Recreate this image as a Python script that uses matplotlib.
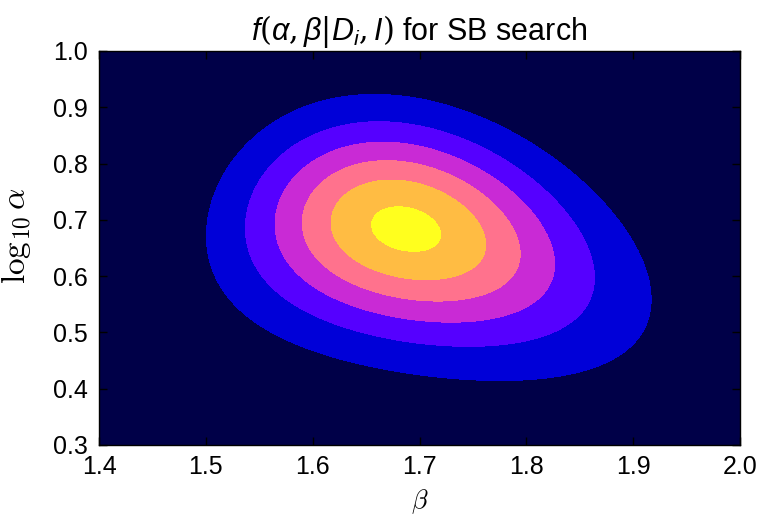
import numpy as np
import matplotlib
matplotlib.use("Agg")
import matplotlib.pyplot as plt

plt.rcParams['font.family'] = ['Liberation Sans', 'DejaVu Sans']
plt.rcParams['mathtext.fontset'] = 'custom'
plt.rcParams['mathtext.it'] = 'Liberation Sans:italic'
plt.rcParams['mathtext.rm'] = 'DejaVu Serif'

# axis ranges and ticks
beta_range  = [1.4, 2.0]
loga_range  = [0.3, 1.0]
beta_ticks  = [1.4, 1.5, 1.6, 1.7, 1.8, 1.9, 2.0]
loga_ticks  = [0.3, 0.4, 0.5, 0.6, 0.7, 0.8, 0.9, 1.0]

# posterior shape
BETA_PEAK   = 1.687   # beta at the maximum
LOGA_PEAK   = 0.684   # log10 alpha at the maximum
SIG_BETA    = 0.107
SIG_LOGA    = 0.131
RHO         = -0.22   # beta / log alpha correlation
SKEW_BETA   = 0.108   # longer tail towards large beta
SKEW_LOGA   = 0.045   # longer tail towards small alpha
BANANA      = 0.14    # contours bend downwards on both sides
PEAK_HEIGHT = 0.942

levels = [0.0, 0.15, 0.30, 0.45, 0.60, 0.75, 0.90, 1.05]


def posterior(beta, loga):
    """Skewed, slightly bent 2D Gaussian used for the contour field."""
    u = (beta - BETA_PEAK) / SIG_BETA
    v = (loga - LOGA_PEAK) / SIG_LOGA
    u1 = (1.0 - np.exp(-SKEW_BETA * u)) / SKEW_BETA
    v1 = (np.exp(SKEW_LOGA * v) - 1.0) / SKEW_LOGA
    v2 = v1 + BANANA * u1 ** 2
    Q = (u1 ** 2 - 2 * RHO * u1 * v2 + v2 ** 2) / (1 - RHO ** 2)
    return PEAK_HEIGHT * np.exp(-0.5 * Q)


B, L = np.meshgrid(np.linspace(*beta_range, 500), np.linspace(*loga_range, 500))
F = posterior(B, L)

fig = plt.figure(figsize=(7.58, 5.16), dpi=100)
ax = fig.add_axes([99 / 758, 71 / 516, 641 / 758, 394 / 516])
ax.contourf(B, L, F, levels=levels, cmap='gnuplot2',
            vmin=levels[0], vmax=levels[-1])

ax.set_xlim(beta_range)
ax.set_ylim(loga_range)
ax.set_xticks(beta_ticks)
ax.set_yticks(loga_ticks)
ax.tick_params(direction='in', top=True, right=True, length=6, width=1,
               labelsize=18, pad=8)
ax.tick_params(axis='x', pad=7)
for s in ax.spines.values():
    s.set_linewidth(1.0)

ax.set_xlabel(r'$\beta$', fontsize=19, math_fontfamily='cm', labelpad=6)
ax.set_ylabel(r'$\log_{10}\alpha$', fontsize=24, math_fontfamily='cm')
ax.yaxis.set_label_coords(-0.103, 0.53)
ax.set_title(r'$f(\alpha, \beta|D_i, I)$ for SB search',
             fontsize=22, pad=8)

fig.savefig('out.png', dpi=100)
